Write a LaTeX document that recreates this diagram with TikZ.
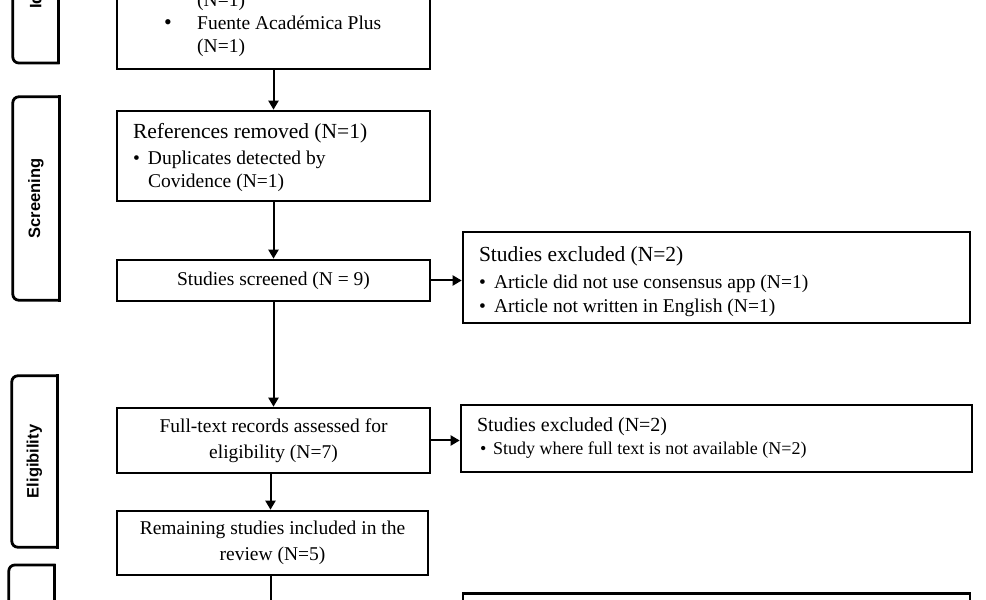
\documentclass[tikz,border=0pt]{standalone}
\usepackage{fontspec}
\setmainfont{Liberation Serif}
\newfontfamily\labelfont{Liberation Sans}
\usetikzlibrary{arrows.meta,calc}
\newcommand{\sideframe}[1]{%
  \draw[sideline, rounded corners=6pt] (#1.north east) -- (#1.north west) -- (#1.south west) -- (#1.south east);
  \draw[sideline] (#1.north east) -- (#1.south east);}
\begin{document}
\begin{tikzpicture}[x=1pt,y=1pt,
  box/.style={draw, line width=2.6pt, rectangle, inner sep=0pt},
  txt/.style={font=\fontsize{19.5}{26}\selectfont},
  bul/.style={font=\fontsize{19.5}{23}\selectfont},
  sideline/.style={line width=2.8pt, line cap=rect},
  sidenode/.style={inner sep=0pt, minimum width=45pt},
  sidelabel/.style={font=\labelfont\bfseries\fontsize{16.5}{18}\selectfont, rotate=90, inner sep=0pt},
  arr/.style={line width=2pt, -{Triangle[width=10pt,length=9pt]}},
]
\useasboundingbox (0,0) rectangle (986,600);
\clip (0,0) rectangle (986,600);

% side stage frames
\node[sidenode, minimum height=220pt, anchor=south] (sideid) at (35.5,537) {};
\node[sidelabel, anchor=west] (idlabel) at (35.5,591) {Identification};
\node[sidenode, minimum width=46pt, minimum height=203pt] (sidescr) at (36,401.5) {};
\node[sidelabel] (scrlabel) at (sidescr.center) {Screening};
\node[sidenode, minimum height=171pt] (sideel) at (34.5,138.5) {};
\node[sidelabel] (ellabel) at (sideel.center) {Eligibility};
\node[sidenode, minimum height=150pt, anchor=north] (sideinc) at (31.5,35) {};
\sideframe{sideid}
\sideframe{sidescr}
\sideframe{sideel}
\sideframe{sideinc}

% main boxes
\node[box, minimum width=313pt, minimum height=189pt] (ident) at (273.5,625.5) {};
\node[bul, anchor=south west, inner sep=0pt, align=left] (identtxt) at (164,543)
  {\hspace*{33pt}(N=1)\\\makebox[33pt][l]{\fontsize{22}{23}\selectfont\textbullet}Fuente Académica Plus\\\hspace*{33pt}(N=1)};

\node[box, bul, minimum width=313pt, minimum height=90pt, text width=281pt, inner xsep=16pt, align=flush left] (refs) at (273.5,444)
  {{\fontsize{21.5}{26}\selectfont\rule{0pt}{19pt}References removed (N=1)\par}\vspace{3pt}%
   \makebox[15pt][l]{\textbullet}Duplicates detected by\\\hspace*{15pt}Covidence (N=1)\par};

\node[box, txt, minimum width=313pt, minimum height=41pt] (screened) at (273.5,319.5) {Studies screened (N = 9)};

\node[box, font=\fontsize{19.5}{24}\selectfont, minimum width=507pt, minimum height=91pt, text width=475pt, inner xsep=16pt, align=flush left] (excl1) at (716.5,322.5)
  {{\fontsize{21.5}{26}\selectfont\rule{0pt}{23pt}Studies excluded (N=2)\par}\vspace{3pt}%
   \makebox[15pt][l]{\textbullet}Article did not use consensus app (N=1)\\
   \makebox[15pt][l]{\textbullet}Article not written in English (N=1)\par};

\node[box, txt, minimum width=313pt, minimum height=65pt, align=center] (full) at (273.5,159.5)
  {Full-text records assessed for\\eligibility (N=7)};

\node[box, font=\fontsize{18}{23}\selectfont, minimum width=511pt, minimum height=67pt, text width=479pt, inner xsep=16pt, align=flush left] (excl2) at (716.5,161.5)
  {{\fontsize{20}{23}\selectfont Studies excluded (N=2)\par}%
   \hspace*{3pt}\makebox[13pt][l]{\textbullet}Study where full text is not available (N=2)\par};

\node[box, txt, minimum width=311pt, minimum height=64pt, align=center] (rem) at (272.5,57)
  {Remaining studies included in the\\review (N=5)};

\node[box, minimum width=507pt, minimum height=100pt, anchor=north] (incl) at (716.5,8) {};

% connectors
\draw[arr] (ident.south) -- (refs.north);
\draw[arr] (refs.south) -- (screened.north);
\draw[arr] (screened.east) -- (screened.east -| excl1.west);
\draw[arr] (screened.south) -- (full.north);
\draw[arr] (full.east) -- (full.east -| excl2.west);
\draw[arr] ([xshift=-2pt]rem.north |- full.south) -- ([xshift=-2pt]rem.north);
\coordinate (down) at ([xshift=-2pt]rem.south |- 0,-40);
\draw[arr] ([xshift=-2pt]rem.south) -- (down);
\end{tikzpicture}
\end{document}
